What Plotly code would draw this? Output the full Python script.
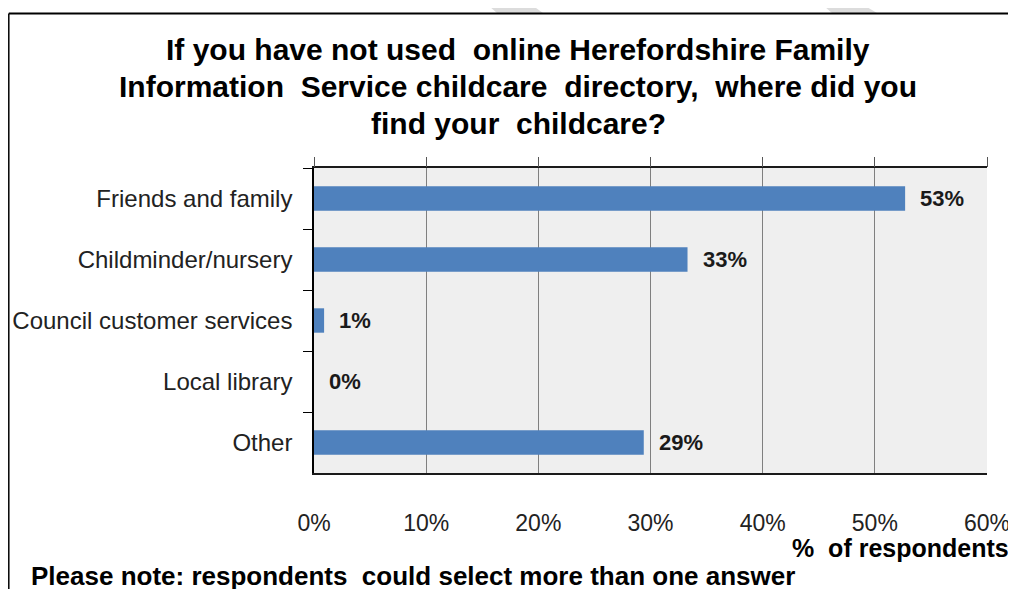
import plotly.graph_objects as go

categories = ["Friends and family", "Childminder/nursery", "Council customer services", "Local library", "Other"]
values = [52.7, 33.3, 0.9, 0.0, 29.4]
value_labels = ["53%", "33%", "1%", "0%", "29%"]
x_tick_vals = [0, 10, 20, 30, 40, 50, 60]
x_tick_text = ["0%", "10%", "20%", "30%", "40%", "50%", "60%"]

title_lines = ["If you have not used  online Herefordshire Family",
               "Information  Service childcare  directory,  where did you",
               "find your  childcare?"]
x_title = "%  of respondents"
note_text = "Please note: respondents  could select more than one answer"

# page has an 8px body margin; figure sized so it fills the 1016x589 window exactly
OFF = 8
W, H = 1016 - OFF, 589 - OFF
# plot area in window pixels
L, R, T, B = 314 - OFF, 987 - OFF, 168 - OFF, 473 - OFF
FONT = "Liberation Sans, Arial, sans-serif"


def px(x):  # window pixel x -> paper
    return (x - OFF - L) / (R - L)


def py(y):  # window pixel y -> paper
    return (B - (y - OFF)) / (B - T)


fig = go.Figure()
fig.add_trace(go.Bar(
    x=values, y=categories, orientation="h",
    marker=dict(color="#4f81bd", line=dict(width=0)),
    hoverinfo="skip", showlegend=False,
))
# dummy trace so the top tick axis is drawn
fig.add_trace(go.Scatter(x=[None], y=[None], xaxis="x2", yaxis="y",
                         showlegend=False, hoverinfo="skip"))

annotations = []
for c, v, t in zip(categories, values, value_labels):
    annotations.append(dict(x=v, y=c, xref="x", yref="y", text=t, showarrow=False,
                            xanchor="left", yanchor="middle", xshift=13,
                            font=dict(family=FONT, size=22, color="#1a1a1a", weight="bold")))

for line, yy in zip(title_lines, [50, 87, 123]):
    annotations.append(dict(x=px(518), y=py(yy), xref="paper", yref="paper", text=line,
                            showarrow=False, xanchor="center", yanchor="middle",
                            font=dict(family=FONT, size=30, color="#000000", weight="bold")))
annotations.append(dict(x=px(1011), y=py(548), xref="paper", yref="paper", text=x_title,
                        showarrow=False, xanchor="right", yanchor="middle",
                        font=dict(family=FONT, size=25, color="#000000", weight="bold")))
annotations.append(dict(x=px(29), y=py(576), xref="paper", yref="paper", text=note_text,
                        showarrow=False, xanchor="left", yanchor="middle",
                        font=dict(family=FONT, size=26, color="#000000", weight="bold")))

shapes = [
    # diagonal page stripes above the chart frame
    dict(type="path", xref="paper", yref="paper", layer="below",
         path=f"M {px(482)} {py(0)} L {px(525)} {py(0)} L {px(543)} {py(13)} L {px(497)} {py(13)} Z",
         fillcolor="#dcdcdc", line=dict(width=0)),
    dict(type="path", xref="paper", yref="paper", layer="below",
         path=f"M {px(817)} {py(0)} L {px(855)} {py(0)} L {px(877)} {py(13)} L {px(832)} {py(13)} Z",
         fillcolor="#dcdcdc", line=dict(width=0)),
    # chart frame
    dict(type="line", xref="paper", yref="paper", x0=px(8.8), x1=px(1030), y0=py(13.5), y1=py(13.5),
         line=dict(color="#000000", width=2)),
    dict(type="line", xref="paper", yref="paper", x0=px(8.8), x1=px(8.8), y0=py(13.5), y1=py(600),
         line=dict(color="#000000", width=1.5)),
]

fig.update_layout(
    width=W, height=H,
    margin=dict(l=L, r=W - R, t=T, b=H - B, autoexpand=False),
    paper_bgcolor="#ffffff",
    plot_bgcolor="#efefef",
    bargap=0.6,
    font=dict(family=FONT, color="#222222"),
    xaxis=dict(range=[0, 60], tickvals=x_tick_vals, ticktext=x_tick_text,
               showgrid=True, gridcolor="#7f7f7f", gridwidth=1,
               showline=True, linecolor="#1a1a1a", linewidth=1.5, mirror=True,
               ticks="", ticklabelstandoff=29, zeroline=False, automargin=False,
               tickfont=dict(family=FONT, size=23, color="#222222"), fixedrange=True),
    xaxis2=dict(range=[0, 60], tickvals=x_tick_vals, overlaying="x", side="top",
                showticklabels=False, ticks="outside", ticklen=10, tickcolor="#555555",
                tickwidth=1, showgrid=False, zeroline=False, showline=False, automargin=False),
    yaxis=dict(categoryorder="array", categoryarray=categories, autorange="reversed",
               showline=True, linecolor="#000000", linewidth=1.5, automargin=False,
               ticks="outside", tickson="boundaries", ticklen=9, tickcolor="#000000",
               tickwidth=1.2, ticklabelstandoff=15, showgrid=False,
               tickfont=dict(family=FONT, size=24, color="#222222")),
    annotations=annotations,
    shapes=shapes,
)

fig.write_html("out.html")
